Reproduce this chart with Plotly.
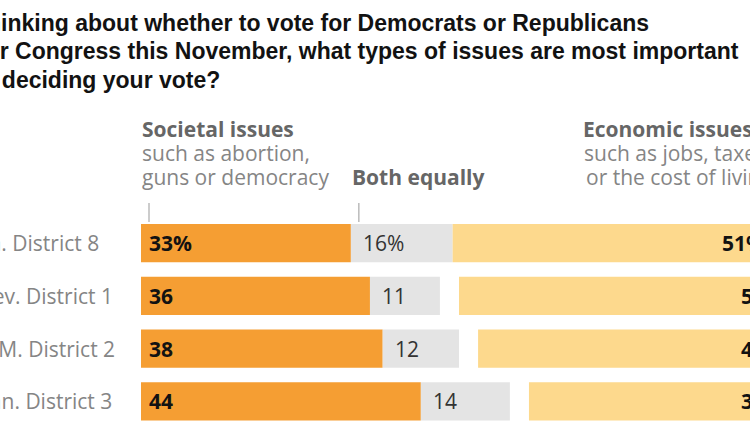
import plotly.graph_objects as go

# ---------------- data ----------------
districts = ["Pa. District 8", "Nev. District 1", "N.M. District 2", "Kan. District 3"]
societal = [33, 36, 38, 44]
both = [16, 11, 12, 14]
economic = [51, 50, 47, 39]

title_lines = [
    "Thinking about whether to vote for Democrats or Republicans",
    "for Congress this November, what types of issues are most important",
    "in deciding your vote?",
]
societal_header = ["Societal issues", "such as abortion,", "guns or democracy"]
both_header = "Both equally"
economic_header = ["Economic issues", "such as jobs, taxes", "or the cost of living"]

# ---------------- style / layout ----------------
W, H = 750, 430
ORANGE = "#F59E33"
GRAY = "#E4E4E4"
YELLOW = "#FDD98D"
DARK = "#121212"
HEAD = "#666666"
SUB = "#858585"
FONT = "Open Sans, Noto Sans, sans-serif"
TFONT = "Liberation Sans, Arial, sans-serif"

X0_PX = 141.0     # pixel of 0%
PX_PER = 6.36     # pixels per percentage point
ROW0 = 243.2      # pixel centre of first row
PITCH = 52.75     # row pitch in pixels

x_range = [-X0_PX / PX_PER, (W - X0_PX) / PX_PER]
y_range = [(H - ROW0) / PITCH, -ROW0 / PITCH]


def px_x(v):
    return X0_PX + v * PX_PER


def py(p):
    return 1 - p / H


fig = go.Figure()
bar_w = 38.3 / PITCH
fig.add_bar(y=districts, x=societal, base=[0] * len(societal), orientation="h",
            marker=dict(color=ORANGE, line=dict(width=0)), width=bar_w, hoverinfo="skip")
fig.add_bar(y=districts, x=both, base=societal, orientation="h",
            marker=dict(color=GRAY, line=dict(width=0)), width=bar_w, hoverinfo="skip")
fig.add_bar(y=districts, x=economic, base=[100 - e for e in economic], orientation="h",
            marker=dict(color=YELLOW, line=dict(width=0)), width=bar_w, hoverinfo="skip")

ann = []
# title (block starts left of the visible frame)
title_x = [-29, -24, -27]
for i, line in enumerate(title_lines):
    ann.append(dict(xref="paper", yref="paper", x=title_x[i] / W, y=py(23 + 28.5 * i),
                    xanchor="left", yanchor="middle", showarrow=False, text=line,
                    font=dict(family=TFONT, size=23, color=DARK, weight="bold")))

# column headers
hdr_y = [129, 153, 177]
for i, line in enumerate(societal_header):
    ann.append(dict(xref="x", yref="paper", x=0, xshift=-1, y=py(hdr_y[i]),
                    xanchor="left", yanchor="middle", showarrow=False,
                    text=(f"<b>{line}</b>" if i == 0 else line),
                    font=dict(family=FONT, size=21, color=(HEAD if i == 0 else SUB))))
ann.append(dict(xref="x", yref="paper", x=societal[0], xshift=-1, y=py(hdr_y[2]),
                xanchor="left", yanchor="middle", showarrow=False,
                text=f"<b>{both_header}</b>",
                font=dict(family=FONT, size=21, color=HEAD)))
eco_x = [583, 584, 586]
for i, line in enumerate(economic_header):
    ann.append(dict(xref="paper", yref="paper", x=(eco_x[i] - 2) / W, y=py(hdr_y[i]),
                    xanchor="left", yanchor="middle", showarrow=False,
                    text=(f"<b>{line}</b>" if i == 0 else line),
                    font=dict(family=FONT, size=21, color=(HEAD if i == 0 else SUB))))

# category labels
for d in districts:
    ann.append(dict(xref="paper", yref="y", x=-25 / W, y=d, xanchor="left", yanchor="middle",
                    showarrow=False, text=d, font=dict(family=FONT, size=21, color=SUB)))

# bar value labels
for i, d in enumerate(districts):
    suf = "%" if i == 0 else ""
    ann.append(dict(xref="x", yref="y", x=0, xshift=6, y=d, xanchor="left", yanchor="middle",
                    showarrow=False, text=f"<b>{societal[i]}{suf}</b>",
                    font=dict(family=FONT, size=21, color=DARK)))
    ann.append(dict(xref="x", yref="y", x=societal[i], xshift=10, y=d, xanchor="left",
                    yanchor="middle", showarrow=False, text=f"{both[i]}{suf}",
                    font=dict(family=FONT, size=21, color="#333333")))
    ann.append(dict(xref="paper", yref="y", x=px_x(100) / W, xshift=-10, y=d, xanchor="right",
                    yanchor="middle", showarrow=False, text=f"<b>{economic[i]}{suf}</b>",
                    font=dict(family=FONT, size=21, color=DARK)))

# small tick marks above the bars
shapes = []
for anchor in [0, societal[0]]:
    shapes.append(dict(type="line", xref="x", xsizemode="pixel", xanchor=anchor, x0=8, x1=8,
                       yref="paper", y0=py(203), y1=py(222),
                       line=dict(color="#999999", width=1)))

fig.update_layout(
    width=W, height=H, margin=dict(l=0, r=0, t=0, b=0),
    paper_bgcolor="white", plot_bgcolor="white",
    barmode="overlay", showlegend=False,
    xaxis=dict(range=x_range, visible=False, fixedrange=True),
    yaxis=dict(range=y_range, visible=False, type="category", fixedrange=True),
    annotations=ann, shapes=shapes,
)

fig.write_html("out.html", config={"displayModeBar": False})
